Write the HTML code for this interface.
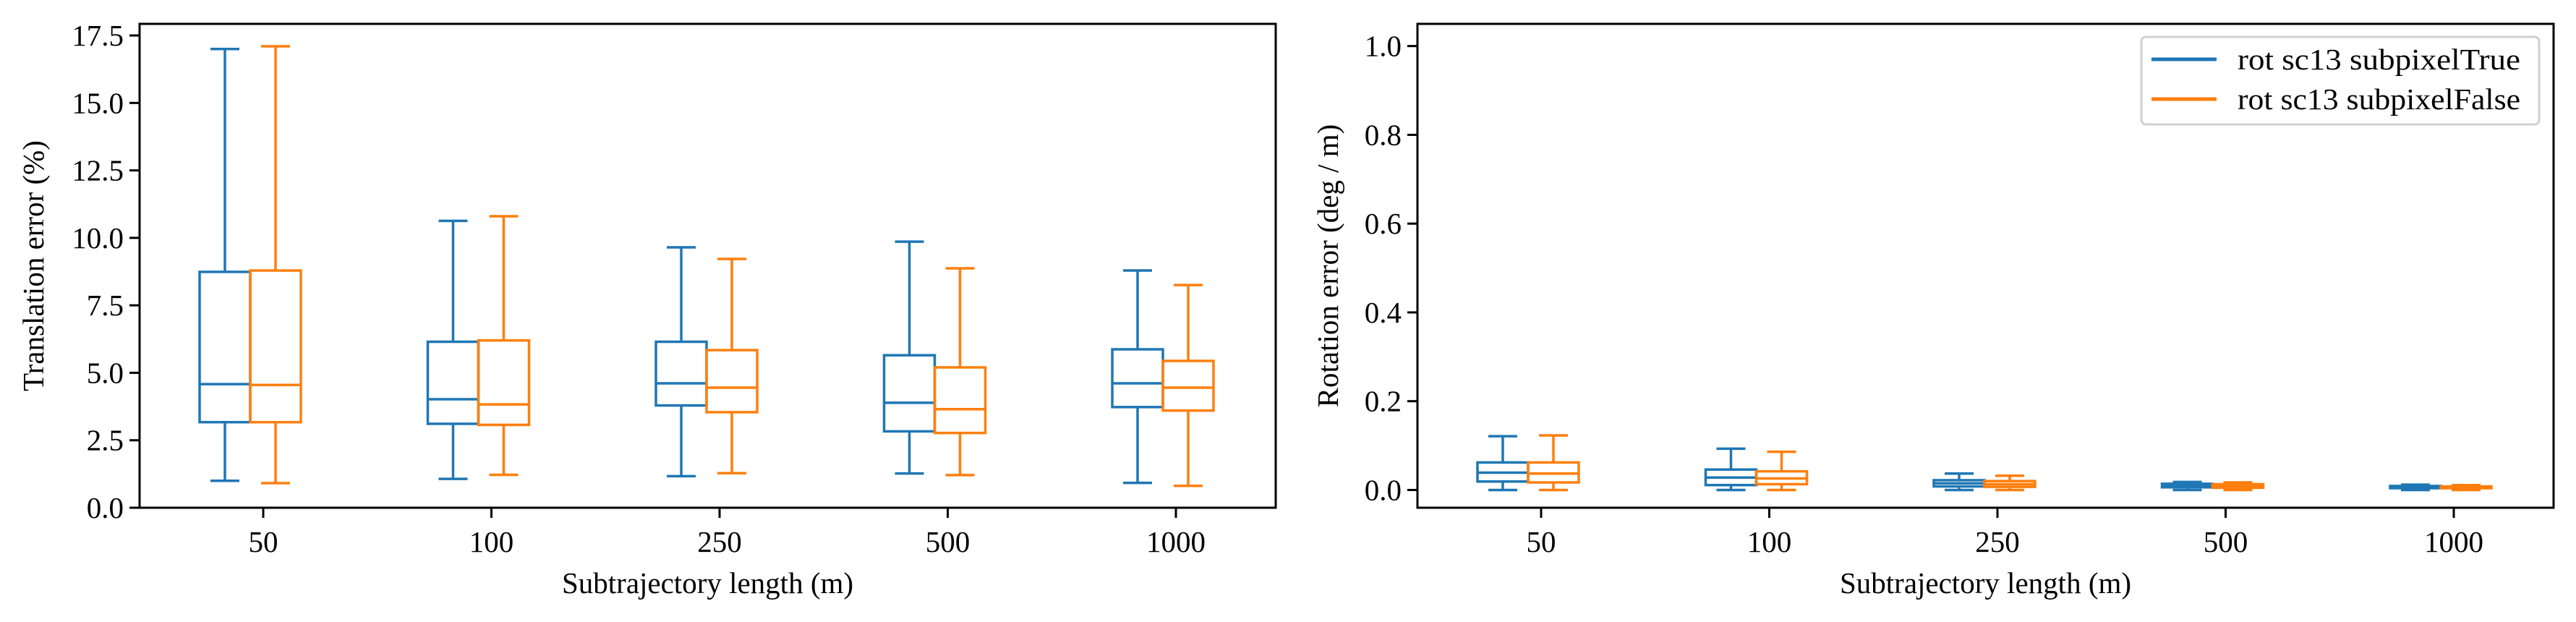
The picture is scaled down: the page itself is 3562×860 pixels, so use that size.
<!DOCTYPE html>
<html><head><meta charset="utf-8"><style>
html,body{margin:0;padding:0;background:#fff;}
svg{display:block;}
text{font-family:"Liberation Serif",serif;fill:#000;}
</style></head><body>
<svg id="chart" width="3562" height="860" viewBox="0 0 3562 860" xmlns="http://www.w3.org/2000/svg"></svg>
<script>
// Shared categories
const categories = ["50","100","250","500","1000"];
// Translation error (%): [low whisker, q1, median, q3, high whisker]
const transTrue  = [[1.0,3.17,4.58,8.74,17.0],[1.07,3.11,4.02,6.15,10.63],[1.17,3.79,4.61,6.15,9.65],[1.27,2.83,3.89,5.65,9.86],[0.92,3.73,4.61,5.87,8.79]];
const transFalse = [[0.91,3.17,4.55,8.79,17.1],[1.22,3.07,3.83,6.2,10.8],[1.28,3.54,4.45,5.84,9.22],[1.21,2.77,3.65,5.2,8.87],[0.81,3.6,4.45,5.44,8.25]];
// Rotation error (deg/m)
const rotTrue  = [[0,0.019,0.039,0.062,0.121],[0,0.011,0.028,0.046,0.093],[0,0.008,0.015,0.022,0.037],[0,0.006,0.010,0.014,0.018],[0,0.004,0.007,0.009,0.012]];
const rotFalse = [[0,0.017,0.037,0.062,0.123],[0,0.013,0.026,0.042,0.086],[0,0.007,0.013,0.020,0.032],[0,0.005,0.009,0.013,0.017],[0,0.004,0.006,0.008,0.011]];
const transTicks = [0,2.5,5,7.5,10,12.5,15,17.5];
const transTickLabels = ["0.0","2.5","5.0","7.5","10.0","12.5","15.0","17.5"];
const rotTicks = [0,0.2,0.4,0.6,0.8,1.0];
const rotTickLabels = ["0.0","0.2","0.4","0.6","0.8","1.0"];
const seriesNames = ["rot sc13 subpixelTrue","rot sc13 subpixelFalse"];

const svg = document.getElementById('chart');
const NS = "http://www.w3.org/2000/svg";
const BLUE = "#1f77b4", ORANGE = "#ff7f0e";
function el(tag, attrs, parent){
  const e = document.createElementNS(NS, tag);
  for (const k in attrs) e.setAttribute(k, attrs[k]);
  (parent||svg).appendChild(e);
  return e;
}
function drawAxes(cfg){
  const g = el('g', {});
  
  
  const L = cfg.left, R = cfg.right, T = 33, B = 702;
  const yS = v => B - (v - cfg.ymin) / (cfg.ymax - cfg.ymin) * (B - T);
  const xB = i => L + 153 + 315.5 * i; // boundary between pair of boxes
  // boxes
  const drawBox = (d, cx, color, nm, i) => {
    const bg = el('g', {stroke: color, 'stroke-width': 3.5, fill: 'none'}, g);
    
    
    const w = 70, cw = 40;
    el('rect', {x: cx - w/2, y: yS(d[3]), width: w, height: Math.max(yS(d[1]) - yS(d[3]), 0.5)}, bg);
    el('line', {x1: cx - w/2, x2: cx + w/2, y1: yS(d[2]), y2: yS(d[2])}, bg);
    el('line', {x1: cx, x2: cx, y1: yS(d[3]), y2: yS(d[4])}, bg);
    el('line', {x1: cx, x2: cx, y1: yS(d[1]), y2: yS(d[0])}, bg);
    el('line', {x1: cx - cw/2, x2: cx + cw/2, y1: yS(d[4]), y2: yS(d[4])}, bg);
    el('line', {x1: cx - cw/2, x2: cx + cw/2, y1: yS(d[0]), y2: yS(d[0])}, bg);
  };
  categories.forEach((c, i) => {
    drawBox(cfg.a[i], xB(i) - 35, BLUE, cfg.name + '-true-box', i);
    drawBox(cfg.b[i], xB(i) + 35, ORANGE, cfg.name + '-false-box', i);
  });
  // spines
  const sp = el('rect', {x: L, y: T, width: R - L, height: B - T, fill: 'none', stroke: '#000', 'stroke-width': 3}, g);
  
  
  // y ticks
  cfg.ticks.forEach((t, k) => {
    const y = yS(t);
    el('line', {x1: L - 14, x2: L, y1: y, y2: y, stroke: '#000', 'stroke-width': 3}, g);
    const tx = el('text', {x: L - 22, y: y + 14, 'font-size': 41, 'text-anchor': 'end'}, g);
    tx.textContent = cfg.tickLabels[k];
    
    
  });
  // x ticks
  categories.forEach((c, i) => {
    const x = xB(i) + 18;
    el('line', {x1: x, x2: x, y1: B, y2: B + 14, stroke: '#000', 'stroke-width': 3}, g);
    const tx = el('text', {x: x, y: 763, 'font-size': 41, 'text-anchor': 'middle'}, g);
    tx.textContent = c;
    
    
  });
  const xl = el('text', {x: (L + R) / 2, y: 820, 'font-size': 41, 'text-anchor': 'middle'}, g);
  xl.textContent = 'Subtrajectory length (m)';
  
  
  const yl = el('text', {x: 0, y: 0, 'font-size': 41, 'text-anchor': 'middle', transform: 'translate(' + cfg.ylx + ',' + ((T + B) / 2) + ') rotate(-90)'}, g);
  yl.textContent = cfg.ylabel;
  
  
}
drawAxes({name: 'translation-plot', left: 193, right: 1764, ymin: 0, ymax: 17.93, a: transTrue, b: transFalse, ticks: transTicks, tickLabels: transTickLabels, ylabel: 'Translation error (%)', ylx: 60});
drawAxes({name: 'rotation-plot', left: 1960, right: 3531, ymin: -0.04, ymax: 1.05, a: rotTrue, b: rotFalse, ticks: rotTicks, tickLabels: rotTickLabels, ylabel: 'Rotation error (deg / m)', ylx: 1850});
// legend
const lg = el('g', {});


el('rect', {x: 2961, y: 51, width: 550, height: 121, rx: 6, fill: '#fff', stroke: '#d0d0d0', 'stroke-width': 3}, lg);
[BLUE, ORANGE].forEach((c, k) => {
  const y = 82 + 55 * k;
  const ln = el('line', {x1: 2975, x2: 3065, y1: y, y2: y, stroke: c, 'stroke-width': 5}, lg);
  
  
  const t = el('text', {x: 3094, y: y + 14, 'font-size': 41, textLength: 391, lengthAdjust: 'spacingAndGlyphs'}, lg);
  t.textContent = seriesNames[k];
  
  
});
</script>
</body></html>
